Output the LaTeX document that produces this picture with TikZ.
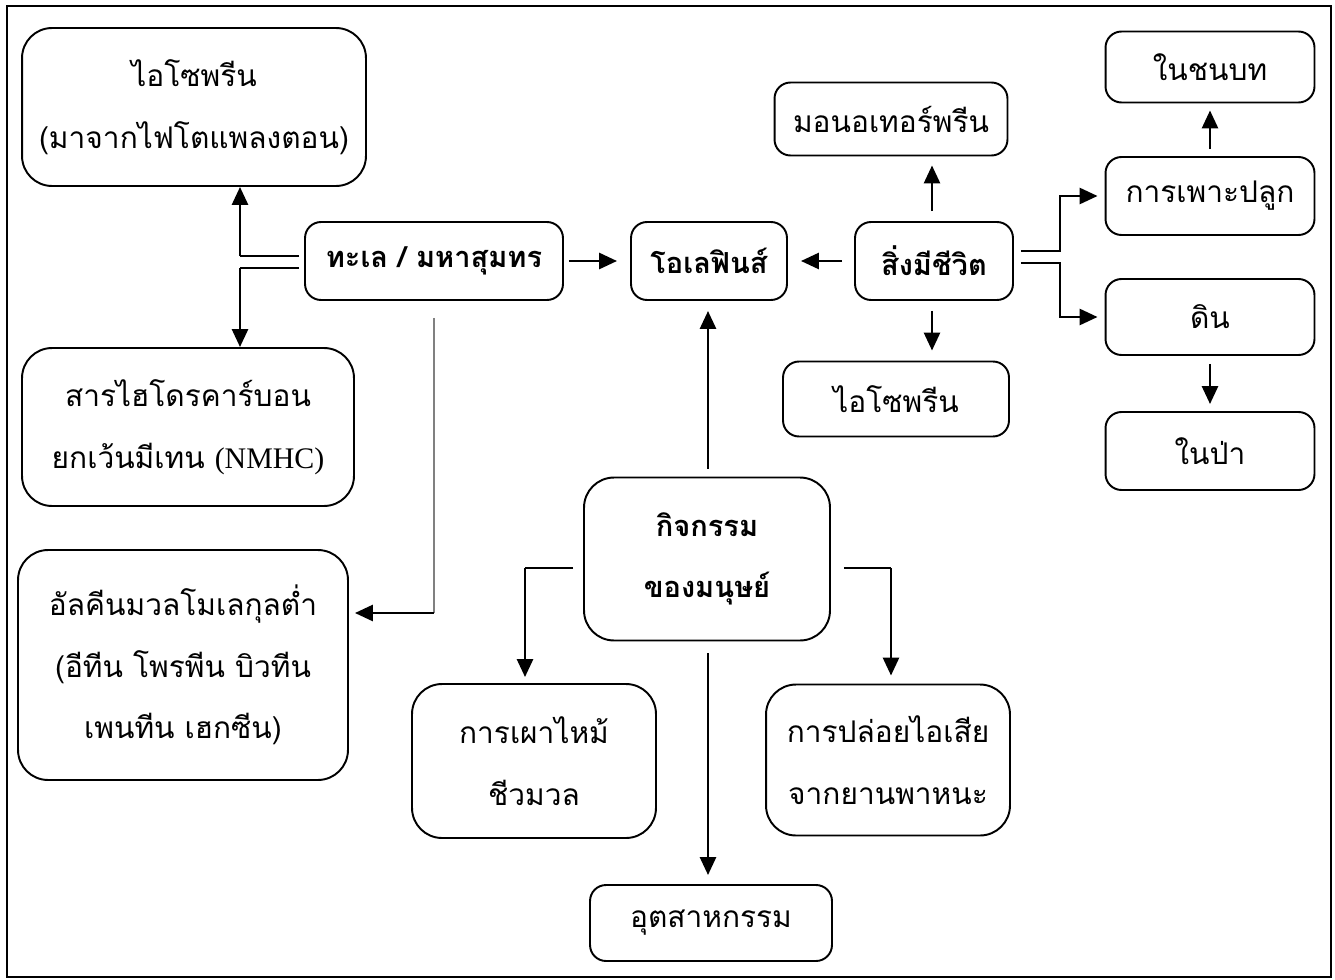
\documentclass[tikz,border=0pt]{standalone}
\usepackage{fontspec}
\setmainfont{Liberation Serif}
\newfontfamily\thaifont[Script=Thai]{Loma}
\usetikzlibrary{arrows.meta}
\begin{document}
\begin{tikzpicture}[x=0.02cm, y=-0.02cm, line width=1.1pt,
box/.style={draw,rounded corners=0.32cm,align=center,inner sep=0pt,font=\thaifont\fontsize{17}{35}\selectfont},
big box/.style={box,rounded corners=0.6cm},
bold box/.style={font=\thaifont\bfseries\fontsize{16.5}{35}\selectfont},
arr/.style={line width=1.6pt,-{Triangle[length=3.6mm,width=3.2mm]}},
thin line/.style={line width=0.6pt}]%
\useasboundingbox (0,0) rectangle (1335,980);
\draw[line width=1.2pt] (7,6) rectangle (1331,977);
\begin{scope}
\node[big box,minimum width=6.88cm,minimum height=3.16cm] (iso1) at (194,107) {ไอโซพรีน\\(มาจากไฟโตแพลงตอน)};
\node[big box,minimum width=6.64cm,minimum height=3.16cm] (nmhc) at (188,427) {สารไฮโดรคาร์บอน\\ยกเว้นมีเทน {\rmfamily(NMHC)}};
\node[big box,minimum width=6.6cm,minimum height=4.6cm] (alk) at (183,665) {อัลคีนมวลโมเลกุลต่ำ\\(อีทีน โพรพีน บิวทีน\\เพนทีน เฮกซีน)};
\node[box,bold box,minimum width=5.16cm,minimum height=1.56cm] (sea) at (434,261) {ทะเล / มหาสุมทร};
\node[box,bold box,minimum width=3.12cm,minimum height=1.56cm] (olef) at (709,261) {โอเลฟินส์};
\node[box,bold box,minimum width=3.16cm,minimum height=1.56cm] (live) at (934,261) {สิ่งมีชีวิต};
\node[box,minimum width=4.66cm,minimum height=1.46cm] (mono) at (891,119) {มอนอเทอร์พรีน};
\node[box,minimum width=4.52cm,minimum height=1.5cm] (iso2) at (896,399) {ไอโซพรีน};
\node[box,minimum width=4.18cm,minimum height=1.42cm] (rural) at (1210,67) {ในชนบท};
\node[box,minimum width=4.18cm,minimum height=1.56cm] (crop) at (1210,196) {การเพาะปลูก};
\node[box,minimum width=4.18cm,minimum height=1.52cm] (soil) at (1210,317) {ดิน};
\node[box,minimum width=4.18cm,minimum height=1.56cm] (forest) at (1210,451) {ในป่า};
\node[big box,bold box,minimum width=4.92cm,minimum height=3.26cm] (human) at (707,559) {กิจกรรม\\ของมนุษย์};
\node[big box,minimum width=4.88cm,minimum height=3.08cm] (burn) at (534,761) {การเผาไหม้\\ชีวมวล};
\node[big box,minimum width=4.88cm,minimum height=3.02cm] (exhaust) at (888,760) {การปล่อยไอเสีย\\จากยานพาหนะ};
\node[box,minimum width=4.84cm,minimum height=1.52cm] (ind) at (711,923) {อุตสาหกรรม};
\end{scope}
\begin{scope}
% sea
\coordinate (su) at (240,256);
\coordinate (sd) at (240,268);
\draw[thin line] (sea.west |- su) ++(-5,0) -- (su);
\draw[thin line] (sea.west |- sd) ++(-5,0) -- (sd);
\draw[arr] (su) -- (iso1.south -| su);
\draw[arr] (sd) -- (nmhc.north -| sd);
\coordinate (sg) at (434,613);
\draw[thin line,gray] ([yshift=-0.34cm]sea.south) -- (sg);
\draw[arr] (sg) -- ([xshift=0.12cm]alk.east |- sg);
\draw[arr] ([xshift=0.1cm]sea.east) -- ([xshift=-0.26cm]olef.west);
% living things
\draw[arr] ([xshift=-0.24cm]live.west) -- ([xshift=0.26cm]olef.east);
\draw[arr] ([yshift=0.2cm]live.north -| 932,0) -- ([yshift=-0.18cm]mono.south -| 932,0);
\draw[arr] ([yshift=-0.2cm]live.south -| 932,0) -- ([yshift=0.2cm]iso2.north -| 932,0);
\coordinate (lu) at (1060,251);
\coordinate (ld) at (1060,263);
\draw[arr] ([xshift=0.14cm]live.east |- lu) -- (lu) |- ([xshift=-0.14cm]crop.west);
\draw[arr] ([xshift=0.14cm]live.east |- ld) -- (ld) |- ([xshift=-0.14cm]soil.west);
\draw[arr] ([yshift=0.14cm]crop.north) -- ([yshift=-0.14cm]rural.south);
\draw[arr] ([yshift=-0.16cm]soil.south) -- ([yshift=0.14cm]forest.north);
% human activities
\draw[arr] ([yshift=0.16cm]human.north -| 708,0) -- ([yshift=-0.2cm]olef.south -| 708,0);
\coordinate (hl) at (525,568);
\coordinate (hr) at (891,568);
\draw[thin line] ([xshift=-0.2cm]human.west |- hl) -- (hl);
\draw[arr] (hl) -- ([yshift=0.12cm]burn.north -| hl);
\draw[thin line] ([xshift=0.26cm]human.east |- hr) -- (hr);
\draw[arr] (hr) -- ([yshift=0.16cm]exhaust.north -| hr);
\draw[arr] ([yshift=-0.24cm]human.south -| 708,0) -- ([yshift=0.18cm]ind.north -| 708,0);
\end{scope}
\end{tikzpicture}
\end{document}
